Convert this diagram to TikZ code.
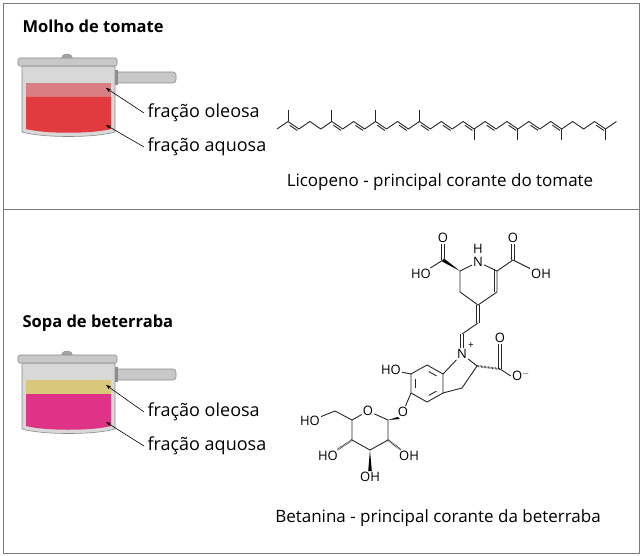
\documentclass[tikz,border=0pt]{standalone}
\usepackage{fontspec}
\setmainfont{Open Sans}
\usetikzlibrary{calc,arrows.meta}
\definecolor{frame}{HTML}{7A7A7A}
\definecolor{potgray}{HTML}{C8C8C8}
\definecolor{potdark}{HTML}{8C8C8C}
\definecolor{tomoil}{HTML}{D97F84}
\definecolor{tomaq}{HTML}{E13B40}
\definecolor{betoil}{HTML}{D9C77C}
\definecolor{betaq}{HTML}{DF3388}
\begin{document}
\begin{tikzpicture}[x=1pt,y=-1pt,line join=round]
  % Define styles
  \tikzset{
    title/.style={font=\fontsize{16.5}{19}\selectfont\bfseries, anchor=west},
    lbl/.style={font=\fontsize{18}{21}\selectfont, anchor=west},
    caption/.style={font=\fontsize{17}{20}\selectfont, anchor=center},
    atom/.style={font=\fontsize{13}{15}\selectfont, inner sep=1pt},
    bond/.style={line width=0.9pt, draw=black!85},
    ptr/.style={-{Stealth[length=5pt]}, line width=0.6pt}
  }
  \useasboundingbox (0,0) rectangle (642,556);
  % Frames
  \draw[frame, line width=0.8pt] (3,3) rectangle (639,553);
  \draw[frame, line width=0.8pt] (3,209) -- (639,209);

  \node[title] (t1) at (19,26) {Molho de tomate};
  \node[title] (t2) at (19,323) {Sopa de beterraba};

  % Pots
  \foreach \dy/\oil/\aq/\nm in {0/tomoil/tomaq/a, 297/betoil/betaq/b}{
    \begin{scope}[yshift=-\dy pt]
      \fill[potgray, draw=potdark, line width=0.6pt, rounded corners=3pt]
        (115,72) rectangle (176,83);
      \fill[potdark] (113,70) rectangle (118,85);
      \fill[potgray!70, draw=potdark, line width=0.6pt]
        (22,66) -- (115,66) -- (115,132) .. controls (95,138) and (42,138) .. (22,132) -- cycle;
      \fill[\oil] (26,83) rectangle (111,97);
      \fill[\aq] (26,97) -- (111,97) -- (111,129) .. controls (92,134) and (45,134) .. (26,129) -- cycle;
      \fill[potdark!80, draw=potdark] (61,59) arc (180:360:6 and 5) -- cycle;
      \fill[potgray, draw=potdark, line width=0.6pt, rounded corners=1.5pt]
        (18,58) rectangle (117,66);
      \coordinate (oil\nm) at (106,88);
      \coordinate (aq\nm) at (106,125);
    \end{scope}
  }
  \node[lbl] (foa) at (144,113) {fração oleosa};
  \node[lbl] (faa) at (144,147) {fração aquosa};
  \node[lbl] (fob) at (144,412) {fração oleosa};
  \node[lbl] (fab) at (144,446) {fração aquosa};
  \draw[ptr] (foa.west) -- (oila);
  \draw[ptr] (faa.west) -- (aqa);
  \draw[ptr] (fob.west) -- (oilb);
  \draw[ptr] (fab.west) -- (aqb);

  % Licopeno
  \foreach \i in {0,...,31}{
    \pgfmathsetmacro\yy{isodd(\i) ? 121.5 : 129}
    \coordinate (l\i) at (277+\i*10.95,\yy);
  }
  \draw[bond] (l0) \foreach \i in {1,...,31}{ -- (l\i)};
  \foreach \i in {1,5,9,13}{\draw[bond] (l\i) -- ++(0,-11);}
  \foreach \i in {18,22,26,30}{\draw[bond] (l\i) -- ++(0,11);}
  \foreach \a/\b in {1/2,5/6,7/8,9/10,11/12,13/14,15/16,17/18,19/20,21/22,23/24,25/26,29/30}{
    \draw[bond, shorten <=2pt, shorten >=2pt] ([yshift=-2.6pt]l\a) -- ([yshift=-2.6pt]l\b);
  }
  \node[caption] (cap1) at (440,182) {Licopeno - principal corante do tomate};

  % Betanina: top ring
  \node[atom] (n1) at (478,262) {N};
  \node[atom] (h1) at (478,249) {H};
  \coordinate (c2) at (460,271);
  \coordinate (c3) at (460,292);
  \coordinate (c4) at (478,305);
  \coordinate (c5) at (497,292);
  \coordinate (c6) at (497,271);
  \coordinate (ca) at (443,260);
  \node[atom] (oa) at (443,238) {O};
  \node[atom] (oha) at (421,274) {HO};
  \coordinate (cb) at (513,260);
  \node[atom] (ob) at (513,238) {O};
  \node[atom] (ohb) at (541,274) {OH};
  \draw[bond] (n1) -- (c2) -- (c3) -- (c4) -- (c5) -- (c6) -- (n1);
  \draw[bond] ([xshift=-3pt]c5) -- ([xshift=-3pt,yshift=2pt]c6);
  \fill (c2) -- ($(ca)+(0.8,-1.6)$) -- ($(ca)+(-0.8,1.6)$) -- cycle;
  \draw[bond] (ca) -- (oha);
  \draw[bond] ([xshift=-1.4pt]ca) -- ([xshift=-1.4pt]oa.south);
  \draw[bond] ([xshift=1.4pt]ca) -- ([xshift=1.4pt]oa.south);
  \draw[bond] (c6) -- (cb) -- (ohb);
  \draw[bond] ([xshift=-1.4pt]cb) -- ([xshift=-1.4pt]ob.south);
  \draw[bond] ([xshift=1.4pt]cb) -- ([xshift=1.4pt]ob.south);
  % chain
  \coordinate (cx) at (478,323);
  \coordinate (cy) at (462,334);
  \draw[bond] ([xshift=-1.4pt]c4) -- ([xshift=-1.4pt]cx);
  \draw[bond] ([xshift=1.4pt]c4) -- ([xshift=1.4pt]cx);
  \draw[bond] (cx) -- (cy);
  \node[atom] (np) at (462,354) {N};
  \node[atom, font=\fontsize{10}{11}\selectfont] (plus) at (471,346) {+};
  \draw[bond] ([xshift=-1.4pt]cy) -- ([xshift=-1.4pt]np.north);
  \draw[bond] ([xshift=1.4pt]cy) -- ([xshift=1.4pt]np.north);
  % indoline
  \coordinate (b1) at (427,365);
  \coordinate (b2) at (443,374);
  \coordinate (b3) at (443,393);
  \coordinate (b4) at (427,402);
  \coordinate (b5) at (411,393);
  \coordinate (b6) at (411,374);
  \draw[bond] (b1) -- (b2) -- (b3) -- (b4) -- (b5) -- (b6) -- cycle;
  \draw[bond, shorten <=2pt, shorten >=2pt] ($(b1)!0.15!(b4)$) -- ($(b2)!0.15!(b5)$);
  \draw[bond, shorten <=2pt, shorten >=2pt] ($(b3)!0.15!(b6)$) -- ($(b4)!0.15!(b1)$);
  \draw[bond, shorten <=2pt, shorten >=2pt] ($(b5)!0.15!(b2)$) -- ($(b6)!0.15!(b3)$);
  \coordinate (i2) at (477,366);
  \coordinate (i3) at (462,388);
  \draw[bond] (b2) -- (np) -- (i2) -- (i3) -- (b3);
  \coordinate (cc) at (500,369);
  \node[atom] (oc) at (500,338) {O};
  \node[atom] (om) at (521,376) {O$^{-}$};
  \draw[bond, dash pattern=on 0.6pt off 0.8pt, line width=2pt] (i2) -- (cc);
  \draw[bond] (cc) -- (om.west);
  \draw[bond] ([xshift=-1.4pt]cc) -- ([xshift=-1.4pt]oc.south);
  \draw[bond] ([xshift=1.4pt]cc) -- ([xshift=1.4pt]oc.south);
  \node[atom] (ohi) at (391,370) {HO};
  \node[atom] (og) at (403,412) {O};
  \draw[bond] (b6) -- (ohi);
  \draw[bond] (b5) -- (og);
  % glucose
  \node[atom] (or) at (368,411) {O};
  \coordinate (g1) at (388,420);
  \coordinate (g2) at (388,440);
  \coordinate (g3) at (370,450);
  \coordinate (g4) at (352,440);
  \coordinate (g5) at (352,420);
  \coordinate (g6) at (335,411);
  \draw[bond] (or) -- (g1) -- (g2) -- (g3) -- (g4) -- (g5) -- (or);
  \fill (g1) -- ($(og.south west)+(1,-1)$) -- ($(og.south west)+(3,1)$) -- cycle;
  \draw[bond] (g5) -- (g6);
  \node[atom] (oh6) at (310,421) {HO};
  \draw[bond] (g6) -- (oh6);
  \node[atom] (oh2) at (409,456) {OH};
  \node[atom] (oh3) at (370,477) {OH};
  \node[atom] (oh4) at (328,456) {HO};
  \draw[bond, dash pattern=on 0.6pt off 0.8pt, line width=2pt] (g2) -- (oh2);
  \draw[bond, dash pattern=on 0.6pt off 0.8pt, line width=2pt] (g4) -- (oh4);
  \fill (g3) -- ($(oh3.north)+(-1.8,0)$) -- ($(oh3.north)+(1.8,0)$) -- cycle;
  \node[caption] (cap2) at (438,518) {Betanina - principal corante da beterraba};
\end{tikzpicture}
\end{document}
